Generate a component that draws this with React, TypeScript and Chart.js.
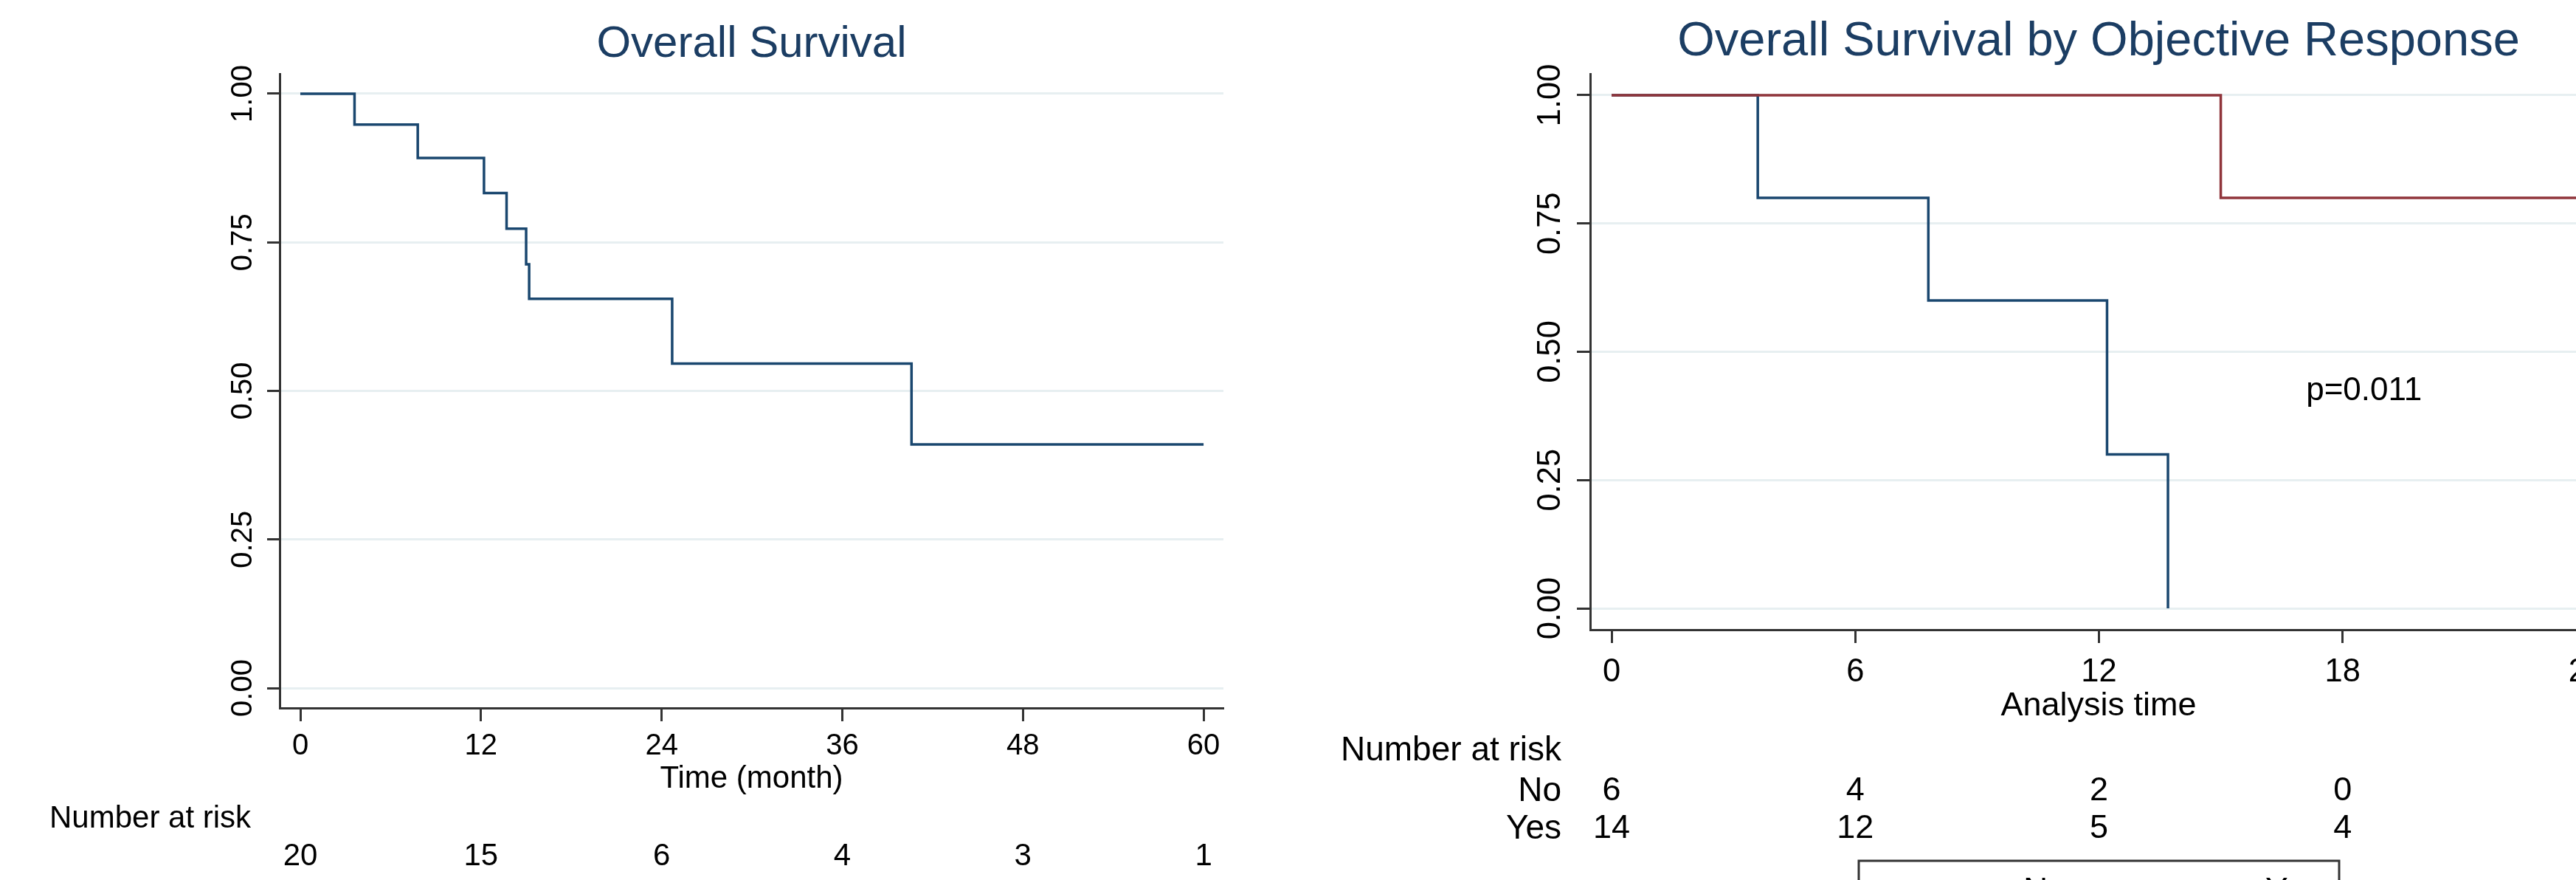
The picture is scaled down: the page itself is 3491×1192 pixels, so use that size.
import React, { useEffect, useRef } from "react";
import { Chart, registerables } from "chart.js";

Chart.register(...registerables);

const FONT = '"Liberation Sans", Arial, Helvetica, sans-serif';
const NAVY = "#1a476f";
const TITLE = "#1b3d63";
const MAROON = "#90353b";
const GRID = "#e7eff1";
const AXIS = "#333333";

// ---------- Left chart: Overall Survival ----------
const osTimes = [0, 3.6, 7.8, 12.2, 13.7, 15.0, 15.2, 24.7, 40.6, 60];
const osSurv = [1, 0.948, 0.892, 0.833, 0.773, 0.713, 0.655, 0.546, 0.41, 0.41];
const osTicksX = [0, 12, 24, 36, 48, 60];
const osAtRisk = [20, 15, 6, 4, 3, 1];
const survTicksY = [0, 0.25, 0.5, 0.75, 1];

// ---------- Right chart: by Objective Response ----------
const noTimes = [0, 3.6, 7.8, 12.2, 13.7];
const noSurv = [1, 0.8, 0.6, 0.3, 0];
const yesTimes = [0, 15.0, 24.5];
const yesSurv = [1, 0.8, 0.8];
const orTicksX = [0, 6, 12, 18, 24];
const orAtRiskNo = [6, 4, 2, 0];
const orAtRiskYes = [14, 12, 5, 4];
const groupLabels = ["No", "Yes"];
const pValueText = "p=0.011";
const pValueAt = { x: 17.1, y: 0.423 };

function pts(xs: number[], ys: number[]) {
  return xs.map((x, i) => ({ x, y: ys[i] }));
}

function axisCfg(opts: any) {
  const { min, max, ticks, size, isY, fitSize, tickLen, pad, fmt } = opts;
  return {
    type: "linear",
    bounds: "data",
    min,
    max,
    afterBuildTicks: (s: any) => {
      s.ticks = ticks.map((v: number) => ({ value: v }));
    },
    afterFit: (s: any) => {
      if (isY) s.width = fitSize;
      else s.height = fitSize;
    },
    grid: isY
      ? { color: GRID, lineWidth: 3, drawTicks: true, tickLength: tickLen, tickColor: AXIS, tickWidth: 3 }
      : { drawOnChartArea: false, drawTicks: true, tickLength: tickLen, tickColor: AXIS, tickWidth: 3 },
    border: { display: true, color: AXIS, width: 3 },
    ticks: {
      font: { family: FONT, size },
      color: "#000",
      padding: pad,
      autoSkip: false,
      minRotation: isY ? 90 : 0,
      maxRotation: isY ? 90 : 0,
      crossAlign: isY ? "center" : "near",
      callback: fmt,
    },
  };
}

export default function App() {
  const leftRef = useRef<HTMLCanvasElement>(null);
  const rightRef = useRef<HTMLCanvasElement>(null);

  useEffect(() => {
    Chart.defaults.font.family = FONT;

    const leftPlugin = {
      id: "leftText",
      afterDraw(chart: any) {
        const ctx = chart.ctx;
        const ca = chart.chartArea;
        const xs = chart.scales.x;
        const cx = (ca.left + ca.right) / 2;
        ctx.save();
        ctx.textBaseline = "middle";
        ctx.textAlign = "center";
        ctx.fillStyle = TITLE;
        ctx.font = `60px ${FONT}`;
        ctx.fillText("Overall Survival", cx, 60);
        ctx.fillStyle = "#000";
        ctx.font = `42px ${FONT}`;
        ctx.fillText("Time (month)", cx, 1055);
        ctx.textAlign = "left";
        ctx.fillText("Number at risk", 67, 1109);
        ctx.textAlign = "center";
        osAtRisk.forEach((n, i) => {
          ctx.fillText(String(n), xs.getPixelForValue(osTicksX[i]), 1160);
        });
        ctx.restore();
      },
    };

    const rightPlugin = {
      id: "rightText",
      afterDraw(chart: any) {
        const ctx = chart.ctx;
        const ca = chart.chartArea;
        const xs = chart.scales.x;
        const ys = chart.scales.y;
        const cx = (ca.left + ca.right) / 2;
        ctx.save();
        ctx.textBaseline = "middle";
        ctx.textAlign = "center";
        ctx.fillStyle = TITLE;
        ctx.font = `65px ${FONT}`;
        ctx.fillText("Overall Survival by Objective Response", cx, 57);
        ctx.fillStyle = "#000";
        ctx.font = `45px ${FONT}`;
        ctx.fillText("Analysis time", cx, 957);
        ctx.font = `44px ${FONT}`;
        ctx.textAlign = "left";
        ctx.fillText(pValueText, xs.getPixelForValue(pValueAt.x), ys.getPixelForValue(pValueAt.y));
        ctx.font = `46px ${FONT}`;
        ctx.fillText("Number at risk", 72, 1017);
        ctx.textAlign = "right";
        ctx.fillText(groupLabels[0], 371, 1072);
        ctx.fillText(groupLabels[1], 371, 1123);
        ctx.textAlign = "center";
        ctx.font = `45px ${FONT}`;
        orAtRiskNo.forEach((n, i) => ctx.fillText(String(n), xs.getPixelForValue(orTicksX[i]), 1072));
        orAtRiskYes.forEach((n, i) => ctx.fillText(String(n), xs.getPixelForValue(orTicksX[i]), 1123));
        // legend box (mostly cut off at the bottom)
        ctx.strokeStyle = AXIS;
        ctx.lineWidth = 3;
        ctx.strokeRect(774, 1166, 651, 140);
        ctx.lineWidth = 3;
        ctx.strokeStyle = NAVY;
        ctx.beginPath();
        ctx.moveTo(830, 1205);
        ctx.lineTo(980, 1205);
        ctx.stroke();
        ctx.strokeStyle = MAROON;
        ctx.beginPath();
        ctx.moveTo(1160, 1205);
        ctx.lineTo(1310, 1205);
        ctx.stroke();
        ctx.textAlign = "left";
        ctx.textBaseline = "alphabetic";
        ctx.font = `46px ${FONT}`;
        ctx.fillText(groupLabels[0], 997, 1221);
        ctx.fillText(groupLabels[1], 1325, 1221);
        ctx.restore();
      },
    };

    const common = {
      animation: false,
      responsive: false,
      maintainAspectRatio: false,
      devicePixelRatio: 1,
      events: [],
      plugins: { legend: { display: false }, tooltip: { enabled: false }, title: { display: false } },
      elements: { point: { radius: 0 } },
    };

    const left = new Chart(leftRef.current!, {
      type: "line",
      data: {
        datasets: [
          {
            data: pts(osTimes, osSurv),
            borderColor: NAVY,
            borderWidth: 3.5,
            stepped: true,
            fill: false,
            pointRadius: 0,
            borderCapStyle: "butt",
            borderJoinStyle: "miter",
          },
        ],
      },
      options: {
        ...common,
        layout: { padding: { left: 279, right: 87, top: 100, bottom: 133 } },
        scales: {
          x: axisCfg({ min: -1.373, max: 61.32, ticks: osTicksX, size: 40, isY: false, fitSize: 100, tickLen: 18, pad: 10, fmt: (v: any) => String(v) }),
          y: axisCfg({ min: -0.0335, max: 1.0335, ticks: survTicksY, size: 40, isY: true, fitSize: 100, tickLen: 17, pad: -7, fmt: (v: any) => Number(v).toFixed(2) }),
        },
      } as any,
      plugins: [leftPlugin],
    } as any);

    const right = new Chart(rightRef.current!, {
      type: "line",
      data: {
        datasets: [
          {
            data: pts(yesTimes, yesSurv),
            borderColor: MAROON,
            borderWidth: 3.5,
            stepped: true,
            fill: false,
            pointRadius: 0,
            order: 0,
            borderCapStyle: "butt",
            borderJoinStyle: "miter",
          },
          {
            data: pts(noTimes, noSurv),
            borderColor: NAVY,
            borderWidth: 3.5,
            stepped: true,
            fill: false,
            pointRadius: 0,
            order: 1,
            borderCapStyle: "butt",
            borderJoinStyle: "miter",
          },
        ],
      },
      options: {
        ...common,
        layout: { padding: { left: 310, right: 62, top: 100, bottom: 239 } },
        scales: {
          x: axisCfg({ min: -0.527, max: 24.51, ticks: orTicksX, size: 43.5, isY: false, fitSize: 100, tickLen: 18, pad: 14, fmt: (v: any) => String(v) }),
          y: axisCfg({ min: -0.0417, max: 1.0417, ticks: survTicksY, size: 43.5, isY: true, fitSize: 100, tickLen: 18, pad: -7, fmt: (v: any) => Number(v).toFixed(2) }),
        },
      } as any,
      plugins: [rightPlugin],
    } as any);

    return () => {
      left.destroy();
      right.destroy();
    };
  }, []);

  return (
    <div
      style={{
        position: "fixed",
        left: 0,
        top: 0,
        width: 3491,
        height: 1192,
        overflow: "hidden",
        background: "#ffffff",
      }}
    >
      <canvas
        ref={leftRef}
        width={1745}
        height={1192}
        style={{ position: "absolute", left: 0, top: 0, width: 1745, height: 1192 }}
      />
      <canvas
        ref={rightRef}
        width={1850}
        height={1192}
        style={{ position: "absolute", left: 1745, top: 0, width: 1850, height: 1192 }}
      />
    </div>
  );
}
